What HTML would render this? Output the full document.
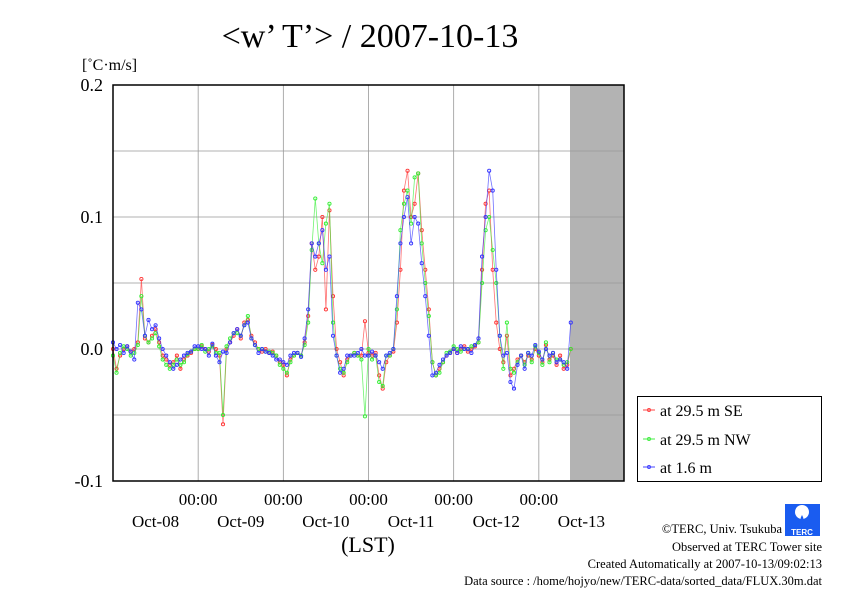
<!DOCTYPE html>
<html><head><meta charset="utf-8"><style>
html,body{margin:0;padding:0;background:#fff;}
svg{display:block;font-family:"Liberation Serif",serif;}
</style></head><body>
<svg width="842" height="595" viewBox="0 0 842 595">
<text x="370" y="47" font-size="34" text-anchor="middle">&lt;w’ T’&gt; / 2007-10-13</text>
<text x="82" y="70" font-size="16">[˚C·m/s]</text>
<rect x="570" y="85" width="54" height="396" fill="#b3b3b3"/>
<g id="grid"></g>
<g id="yticks"></g>
<g id="xticks"></g>
<g id="series"></g>
<rect x="113" y="85" width="511" height="396" fill="none" stroke="#000" stroke-width="1.5"/>
<text x="368" y="552" font-size="22" text-anchor="middle">(LST)</text>
<g>
<rect x="637.5" y="396.5" width="184" height="85" fill="#fff" stroke="#000"/>
<g><line x1="643" y1="410" x2="655" y2="410" stroke="#f44"/><circle cx="649" cy="410" r="1.5" fill="none" stroke="#f44"/><text x="660" y="416" font-size="16">at 29.5 m SE</text></g>
<g><line x1="643" y1="439" x2="655" y2="439" stroke="#4e4"/><circle cx="649" cy="439" r="1.5" fill="none" stroke="#4e4"/><text x="660" y="445" font-size="16">at 29.5 m NW</text></g>
<g><line x1="643" y1="467" x2="655" y2="467" stroke="#44f"/><circle cx="649" cy="467" r="1.5" fill="none" stroke="#44f"/><text x="660" y="473" font-size="16">at 1.6 m</text></g>
</g>
<g>
<rect x="785" y="504" width="35" height="32" fill="#1a5cf0"/>
<circle cx="802" cy="512" r="7" fill="#fff"/>
<path d="M802 515 q-3 5 0 8 q3 -3 0 -8z" fill="#1a5cf0"/>
<text x="802" y="535" font-size="8" fill="#fff" text-anchor="middle" font-family="Liberation Sans,sans-serif" font-weight="bold">TERC</text>
</g>
<g font-size="12.5" text-anchor="end">
<text x="782" y="533">©TERC, Univ. Tsukuba</text>
<text x="822" y="551">Observed at TERC Tower site</text>
<text x="822" y="568">Created Automatically at 2007-10-13/09:02:13</text>
<text x="822" y="585">Data source : /home/hojyo/new/TERC-data/sorted_data/FLUX.30m.dat</text>
</g>
</svg>
<script>
// values in units of 0.001 °C·m/s, hourly from start of plot
const seriesSE = [0,-15,-5,0,2,-2,0,5,53,8,5,10,15,5,-5,-8,-12,-10,-5,-15,-8,-5,-3,0,
0,2,0,-2,3,0,-5,-57,0,5,10,15,8,20,22,10,5,0,-2,0,-3,-2,-5,-10,
-12,-20,-8,-5,-3,-5,5,25,80,60,70,100,30,105,40,0,-10,-20,-8,-5,-3,-5,-5,21,
-3,-5,-3,-20,-30,-10,-5,-2,20,60,120,135,100,110,133,90,60,30,-10,-20,-15,-10,-5,-3,
0,-3,0,2,-2,0,2,5,60,110,120,60,20,0,-10,10,-20,-15,-8,-5,-10,-5,-8,0,
-5,-10,3,-8,-5,-12,-5,-15,-12,0];
const seriesNW = [-5,-18,-3,2,0,-5,-3,3,40,10,5,8,12,2,-8,-12,-15,-12,-8,-12,-10,-4,-2,0,
0,3,-2,0,2,-3,-3,-50,2,8,12,12,10,18,25,8,3,0,0,-2,-2,-3,-5,-12,
-15,-18,-10,-5,-3,-5,3,20,75,114,80,65,95,110,20,-5,-15,-18,-10,-5,-3,-5,-8,-51,
0,-8,-5,-25,-28,-5,-5,0,30,90,110,120,95,130,133,80,50,25,-10,-20,-18,-10,-3,-2,
2,0,-2,0,0,2,3,5,50,90,100,75,50,10,-15,20,-15,-18,-10,-5,-12,-3,-10,2,
-3,-12,5,-10,-3,-8,-8,-12,-10,0];
const series16 = [5,0,3,-3,2,-2,-8,35,30,10,22,15,18,8,0,-5,-10,-15,-12,-8,-5,-3,-2,2,
2,0,0,-5,4,-5,-10,-2,-3,5,12,15,10,18,20,8,3,-3,0,-2,-3,-5,-8,-8,
-10,-12,-5,-3,-3,-6,8,30,80,70,80,90,60,70,10,-5,-18,-15,-5,-5,-5,-3,0,-5,
-5,-2,-5,-10,-15,-5,-3,0,40,80,100,115,80,100,95,65,40,10,-20,-18,-12,-8,-5,-3,
0,-3,2,0,0,-3,3,8,70,100,135,120,60,10,-5,-3,-25,-30,-12,-5,-15,-3,-5,3,
-2,-8,0,-5,-3,-10,-8,-10,-15,20];
const yTicks = [0.2,0.1,0.0,-0.1];
const yTickLabels = ["0.2","0.1","0.0","-0.1"];
const dayLabels = ["Oct-08","Oct-09","Oct-10","Oct-11","Oct-12","Oct-13"];
const NS='http://www.w3.org/2000/svg';
const X0=113,X1=624,Y0=85,Y1=481,HOURS=144;
function xs(h){return X0+(X1-X0)*h/HOURS;}
function ys(v){return Y1-(v-(-0.1))/(0.3)*(Y1-Y0);}
function mk(t,a,p){const e=document.createElementNS(NS,t);for(const k in a)e.setAttribute(k,a[k]);p.appendChild(e);return e;}
const grid=document.getElementById('grid');
for(let v=-0.05;v<0.2;v+=0.05){
  const l=mk('line',{x1:X0,x2:X1,y1:ys(v),y2:ys(v),stroke:'#999','stroke-width':0.8},grid);
  
  
}
for(let d=1;d<6;d++){
  const l=mk('line',{x1:xs(d*24),x2:xs(d*24),y1:Y0,y2:Y1,stroke:'#999','stroke-width':0.8},grid);
  
  
}
const yt=document.getElementById('yticks');
yTicks.forEach((v,i)=>{
  const t=mk('text',{x:103,y:ys(v)+6,'font-size':18,'text-anchor':'end'},yt);
  t.textContent=yTickLabels[i];
  
  
});
const xt=document.getElementById('xticks');
for(let d=1;d<=5;d++){
  const t=mk('text',{x:xs(d*24),y:505,'font-size':17,'text-anchor':'middle'},xt);
  t.textContent='00:00';
  
  
}
dayLabels.forEach((s,i)=>{
  const t=mk('text',{x:xs(12+i*24),y:527,'font-size':17,'text-anchor':'middle'},xt);
  t.textContent=s;
  
  
});
const sg=document.getElementById('series');
[[seriesSE,'#f33','series-29-5m-se'],[seriesNW,'#3e3','series-29-5m-nw'],[series16,'#33f','series-1-6m']].forEach(([arr,c,n])=>{
  const g=mk('g',{},sg);
  
  
  const pts=arr.map((v,i)=>xs(i)+','+ys(v/1000)).join(' ');
  mk('polyline',{points:pts,fill:'none',stroke:c,'stroke-width':0.8,'stroke-opacity':0.7},g);
  arr.forEach((v,i)=>{
    const p=mk('circle',{cx:xs(i),cy:ys(v/1000),r:1.6,fill:'none',stroke:c,'stroke-width':0.9},g);
    
    
  });
});
</script>
</body></html>
